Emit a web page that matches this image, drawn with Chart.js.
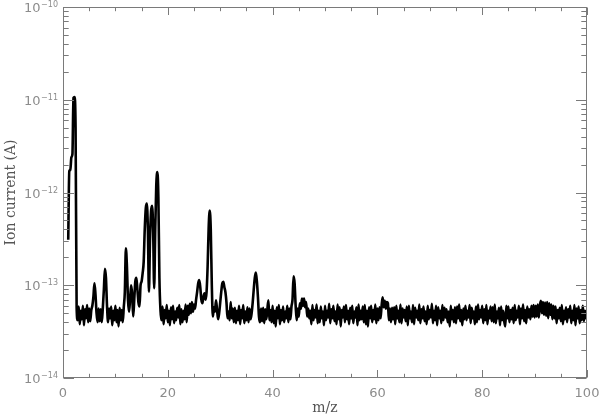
<!DOCTYPE html>
<html><head><meta charset="utf-8">
<script src="https://cdn.jsdelivr.net/npm/chart.js@4/dist/chart.umd.min.js"></script>
<style>html,body{margin:0;padding:0;background:#fff}</style>
</head><body>
<canvas id="c" width="600" height="417"></canvas>
<script>
// ---- DATA ----
// m/z sampling of the scan
const mzStart = 1.0;
const mzStep = 0.2;
// ion current, in units of 1e-14 A, one row per m/z unit (x.0, x.2, x.4, x.6, x.8)
const ionCurrent14 = [
  31, 170, 175, 240, 260,      // 1
  1050, 1070, 500, 5.8, 4.2,   // 2
  5.9, 3.8, 5.3, 4.3, 6.0,     // 3
  3.7, 5.5, 4.4, 6.1, 4.0,     // 4
  5.6, 4.1, 5.4, 6.0, 7.5,     // 5
  10.5, 8.0, 5.0, 4.0, 5.6,    // 6
  4.1, 5.5, 4.0, 5.7, 9.0,     // 7
  15, 12, 6.0, 4.0, 5.6,       // 8
  4.4, 5.9, 3.7, 5.3, 4.2,     // 9
  6.0, 4.0, 5.4, 3.6, 5.7,     // 10
  4.2, 5.4, 4.0, 5.8, 8.5,     // 11
  25, 16, 7.0, 5.2, 7.0,       // 12
  10, 8.0, 4.6, 7.0, 11,       // 13
  12, 9.0, 6.5, 5.9, 10,       // 14
  11, 13.5, 18, 40, 68,        // 15
  76, 40, 8.5, 30, 62,         // 16
  72, 40, 9.3, 40, 120,        // 17
  166, 90, 12, 5.4, 4.2,       // 18
  5.9, 3.8, 5.4, 4.4, 6.1,     // 19
  4.0, 5.3, 3.7, 5.8, 4.3,     // 20
  6.0, 3.9, 5.2, 4.2, 5.7,     // 21
  4.5, 6.1, 3.8, 5.5, 4.0,     // 22
  5.3, 4.3, 6.2, 4.0, 6.0,     // 23
  4.8, 6.3, 5.0, 6.6, 5.2,     // 24
  6.2, 5.6, 7.0, 8.5, 10.5,    // 25
  11.4, 9.5, 7.0, 6.4, 7.5,    // 26
  8.2, 7.0, 8.5, 16, 42,       // 27
  64, 40, 10, 4.6, 5.8,        // 28
  5.2, 6.9, 5.4, 4.3, 5.0,     // 29
  6.5, 8.5, 10.5, 10.9, 9.5,   // 30
  8.4, 6.5, 4.4, 5.2, 4.2,     // 31
  6.6, 4.4, 5.6, 4.0, 5.7,     // 32
  3.9, 5.3, 4.2, 6.0, 3.8,     // 33
  5.4, 4.4, 6.1, 3.9, 5.2,     // 34
  4.2, 5.8, 4.0, 5.6, 4.3,     // 35
  5.0, 6.5, 9.0, 12, 13.7,     // 36
  11, 7.5, 4.6, 4.0, 5.6,      // 37
  4.1, 5.7, 3.9, 5.5, 4.3,     // 38
  5.5, 6.9, 4.2, 5.4, 4.0,     // 39
  6.0, 3.9, 5.3, 3.6, 5.8,     // 40
  4.4, 6.1, 3.8, 5.4, 4.2,     // 41
  5.9, 4.0, 5.2, 4.4, 6.0,     // 42
  4.0, 5.6, 4.3, 5.9, 7.0,     // 43
  12.5, 10.5, 6.0, 4.2, 5.6,   // 44
  4.6, 6.4, 5.6, 7.2, 6.0,     // 45
  7.2, 5.8, 6.6, 4.6, 5.6,     // 46
  4.4, 5.3, 3.8, 6.1, 4.2,     // 47
  5.4, 4.5, 6.2, 3.9, 5.3,     // 48
  4.0, 5.9, 4.4, 5.2, 3.7,     // 49
  6.0, 4.2, 5.3, 4.5, 6.3,     // 50
  3.9, 5.5, 4.4, 6.0, 4.1,     // 51
  5.2, 3.8, 6.2, 4.3, 5.8,     // 52
  3.6, 5.4, 4.5, 5.9, 4.0,     // 53
  6.1, 4.3, 5.3, 3.8, 5.7,     // 54
  4.4, 6.0, 3.9, 5.2, 4.5,     // 55
  5.8, 3.7, 6.2, 4.2, 5.3,     // 56
  4.3, 5.9, 4.0, 6.1, 3.8,     // 57
  5.3, 3.6, 5.8, 4.4, 6.0,     // 58
  4.0, 5.4, 4.3, 6.2, 3.9,     // 59
  5.6, 4.2, 5.8, 4.4, 6.0,     // 60
  7.4, 5.8, 6.8, 5.6, 6.6,     // 61
  6.4, 4.2, 5.6, 4.0, 5.7,     // 62
  4.3, 5.8, 3.8, 6.0, 4.4,     // 63
  5.3, 4.0, 6.2, 3.9, 5.6,     // 64
  4.5, 5.4, 4.1, 5.9, 3.7,     // 65
  6.0, 4.4, 5.2, 4.0, 6.1,     // 66
  3.8, 5.7, 4.5, 5.3, 4.2,     // 67
  6.2, 3.9, 5.5, 4.4, 5.9,     // 68
  4.1, 5.2, 3.8, 6.0, 4.3,     // 69
  5.4, 4.5, 6.3, 3.9, 5.3,     // 70
  4.2, 6.0, 3.7, 5.8, 4.4,     // 71
  5.3, 3.9, 6.1, 4.2, 5.7,     // 72
  4.5, 5.5, 4.0, 5.2, 3.6,     // 73
  6.0, 4.3, 5.4, 4.0, 5.8,     // 74
  3.9, 5.9, 4.4, 6.2, 4.1,     // 75
  5.4, 3.7, 5.6, 4.3, 6.0,     // 76
  4.2, 5.3, 4.5, 6.1, 3.9,     // 77
  5.7, 4.4, 5.2, 3.8, 5.9,     // 78
  4.0, 6.2, 4.3, 5.4, 4.5,     // 79
  6.0, 3.9, 5.5, 4.2, 6.1,     // 80
  3.8, 5.3, 4.4, 5.9, 4.1,     // 81
  5.8, 4.0, 6.2, 3.9, 5.2,     // 82
  4.4, 5.7, 3.7, 5.9, 4.2,     // 83
  5.3, 4.1, 3.6, 6.0, 4.4,     // 84
  5.9, 4.0, 5.4, 4.3, 5.7,     // 85
  3.9, 6.1, 4.2, 5.3, 4.5,     // 86
  6.0, 3.8, 5.6, 4.4, 6.2,     // 87
  4.1, 5.4, 3.9, 5.9, 4.5,     // 88
  5.5, 4.3, 6.0, 4.6, 6.1,     // 89
  4.5, 6.0, 4.6, 6.2, 4.5,     // 90
  6.0, 6.8, 5.0, 6.6, 4.8,     // 91
  6.5, 4.7, 6.6, 4.4, 6.4,     // 92
  4.8, 6.2, 4.3, 6.0, 4.4,     // 93
  5.9, 3.9, 5.4, 4.4, 5.7,     // 94
  4.1, 6.1, 3.8, 5.3, 4.3,     // 95
  5.8, 4.0, 5.5, 4.5, 6.0,     // 96
  3.9, 5.3, 4.2, 6.1, 3.7,     // 97
  5.6, 4.4, 5.9, 3.9, 5.4,     // 98
  4.2, 6.0, 4.1, 5.3, 4.4,     // 99
  5.4                          // 100
];

// tick values / labels
const xMajorTicks = [0, 20, 40, 60, 80, 100];
const xMinorTicks = [0,5,10,15,20,25,30,35,40,45,50,55,60,65,70,75,80,85,90,95,100];
const yExponents = [-14, -13, -12, -11, -10];
const yMinorMantissas = [2, 3, 4, 5, 6, 7, 8, 9];
const xTitle = 'm/z';
const yTitle = 'Ion current (A)';

// ---- STYLE ----
const AXIS = '#7a7a7a';
const LABEL = '#8c8c8c';
const TITLE = '#555555';

const points = ionCurrent14.map((v, i) => ({ x: +(mzStart + i * mzStep).toFixed(2), y: v * 1e-14 }));

const idlAxes = {
  id: 'idlAxes',
  afterDraw(chart) {
    const { ctx, chartArea: a } = chart;
    const xs = chart.scales.x, ys = chart.scales.y;
    ctx.save();
    ctx.strokeStyle = AXIS;
    ctx.lineWidth = 1;
    const L = Math.round(a.left) + 0.5, R = Math.round(a.right) - 0.5;
    const T = Math.round(a.top) + 0.5, B = Math.round(a.bottom) - 0.5;
    ctx.strokeRect(L, T, R - L, B - T);
    ctx.beginPath();
    xMinorTicks.forEach(v => {
      const p = Math.round(xs.getPixelForValue(v)) + 0.5;
      const len = xMajorTicks.includes(v) ? 7.5 : 3.7;
      ctx.moveTo(p, B); ctx.lineTo(p, B - len);
      ctx.moveTo(p, T); ctx.lineTo(p, T + len);
    });
    yExponents.forEach(e => {
      const p = Math.round(ys.getPixelForValue(Math.pow(10, e))) + 0.5;
      ctx.moveTo(L, p); ctx.lineTo(L + 10.5, p);
      ctx.moveTo(R, p); ctx.lineTo(R - 10.5, p);
      if (e < yExponents[yExponents.length - 1]) {
        yMinorMantissas.forEach(m => {
          const q = Math.round(ys.getPixelForValue(m * Math.pow(10, e))) + 0.5;
          ctx.moveTo(L, q); ctx.lineTo(L + 5.2, q);
          ctx.moveTo(R, q); ctx.lineTo(R - 5.2, q);
        });
      }
    });
    ctx.stroke();

    // x tick labels
    ctx.fillStyle = LABEL;
    ctx.font = '13px "DejaVu Sans"';
    ctx.textAlign = 'center';
    ctx.textBaseline = 'alphabetic';
    xMajorTicks.forEach(v => {
      ctx.fillText(String(v), xs.getPixelForValue(v), 397);
    });
    // y tick labels 10^e
    yExponents.forEach(e => {
      const p = ys.getPixelForValue(Math.pow(10, e));
      const sup = '\u2212' + Math.abs(e);
      ctx.font = '8px "DejaVu Sans"';
      const wSup = ctx.measureText(sup).width;
      ctx.textAlign = 'right';
      const right = 58;
      ctx.fillText(sup, right, p);
      ctx.font = '13px "DejaVu Sans"';
      ctx.fillText('10', right - wSup - 0.5, p + 5);
    });
    // titles
    ctx.fillStyle = TITLE;
    ctx.font = '14px "DejaVu Serif"';
    ctx.textAlign = 'center';
    ctx.textBaseline = 'middle';
    ctx.fillText(xTitle, (a.left + a.right) / 2, 408);
    ctx.translate(11, (a.top + a.bottom) / 2);
    ctx.rotate(-Math.PI / 2);
    ctx.fillText(yTitle, 0, 0);
    ctx.restore();
  }
};

new Chart(document.getElementById('c'), {
  type: 'line',
  data: { datasets: [{ data: points, borderColor: '#000', borderWidth: 2.6, pointRadius: 0,
    cubicInterpolationMode: 'monotone', fill: false, borderJoinStyle: 'round' }] },
  options: {
    responsive: false, animation: false, events: [],
    layout: { padding: { top: 7, right: 13, left: 0, bottom: 0 } },
    plugins: { legend: { display: false }, tooltip: { enabled: false } },
    scales: {
      x: { type: 'linear', min: 0, max: 100, grid: { display: false }, border: { display: false }, ticks: { display: false },
           afterFit(s) { s.height = 39; } },
      y: { type: 'logarithmic', min: 1e-14, max: 1e-10, grid: { display: false }, border: { display: false }, ticks: { display: false },
           afterFit(s) { s.width = 63; } }
    }
  },
  plugins: [idlAxes]
});
</script>
</body></html>
